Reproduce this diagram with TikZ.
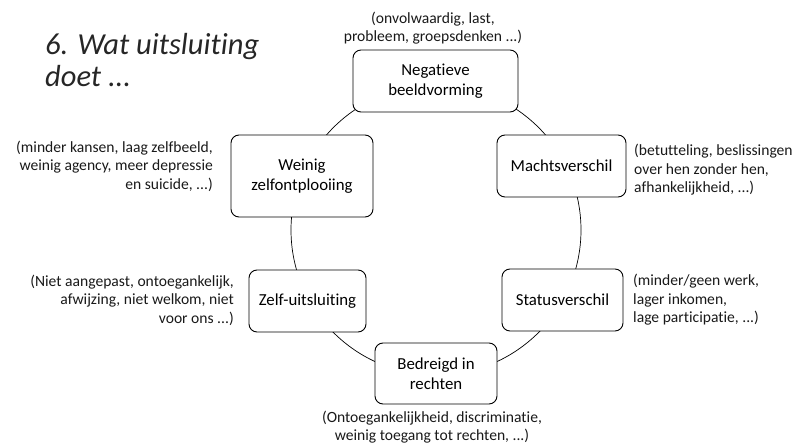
\documentclass[tikz,border=0pt]{standalone}
\usepackage{fontspec}
\setmainfont{Carlito}[Ligatures=NoCommon]
\begin{document}
\begin{tikzpicture}[x=1pt,y=-1pt,
  box/.style={draw=black, line width=0.9pt, rounded corners=8pt, fill=white,
    align=center, inner sep=0pt, minimum height=62pt,
    font=\fontsize{16.8}{20}\selectfont},
  note/.style={inner sep=0pt, font=\fontsize{15.6}{18.5}\selectfont, text=black!90},
  ttl/.style={inner sep=0pt, anchor=base west, font=\fontsize{30.5}{32}\selectfont\itshape, text=black!85}
]
\useasboundingbox (0,0) rectangle (798,446);
% ring behind the boxes
\node[circle, draw=black, line width=0.7pt, minimum size=290pt, inner sep=0pt] (ring) at (436,230) {};
% boxes
\node[box, minimum width=165pt] (neg) at (435.5,81) {Negatieve\\beeldvorming};
\node[box, minimum width=129pt] (macht) at (561.5,166) {Machtsverschil};
\node[box, minimum width=121pt] (status) at (562.5,300) {Statusverschil};
\node[box, minimum width=122pt, minimum height=61pt] (recht) at (436,373.5) {Bedreigd in\\rechten};
\node[box, minimum width=117pt] (zelf) at (307.5,301) {Zelf-uitsluiting};
\node[box, minimum width=142pt, minimum height=82pt] (weinig) at (302,176) {Weinig\\zelfontplooiing};
% notes
\node[note, align=center] (nneg) at (433,28) {(onvolwaardig, last,\\probleem, groepsdenken ...)};
\node[note, align=left, anchor=west] (nmacht) at (634,170) {(betutteling, beslissingen\\over hen zonder hen,\\afhankelijkheid, ...)};
\node[note, align=left, anchor=west] (nstatus) at (633,300) {(minder/geen werk,\\lager inkomen,\\lage participatie, ...)};
\node[note, align=center] (nrecht) at (432,427) {(Ontoegankelijkheid, discriminatie,\\weinig toegang tot rechten, ...)};
\node[note, align=right, anchor=east] (nzelf) at (234,300) {(Niet aangepast, ontoegankelijk,\\afwijzing, niet welkom, niet\\voor ons ...)};
\node[note, align=right, anchor=east] (nweinig) at (213,166) {(minder kansen, laag zelfbeeld,\\weinig agency, meer depressie\\en suicide, ...)};
% title
\node[ttl] (t1) at (45,55) {6. Wat uitsluiting};
\node[ttl] (t2) at (45,87) {doet ...};
\end{tikzpicture}
\end{document}
